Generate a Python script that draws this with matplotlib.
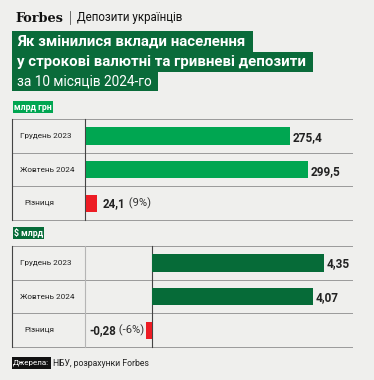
import numpy as np
import matplotlib.pyplot as plt
from matplotlib.patches import Rectangle

categories = ['Грудень 2023', 'Жовтень 2024', 'Різниця']
uah_values = [275.4, 299.5, 24.1]
uah_labels = ['275,4', '299,5', '24,1']
uah_pct = ' (9%)'
usd_values = [4.35, 4.07, -0.28]
usd_labels = ['4,35', '4,07', '-0,28']
usd_pct = ' (-6%)'

W, H = 374, 380
bg = '#efefed'
title_green = '#0a6b3a'
light_green = '#00a651'
dark_green = '#066b38'
red = '#ed1c24'
plt.rcParams['font.family'] = ['Roboto', 'DejaVu Sans']

fig = plt.figure(figsize=(W/100, H/100), dpi=100, facecolor=bg)
base = fig.add_axes([0, 0, 1, 1])
base.set_xlim(0, W)
base.set_ylim(H, 0)
base.axis('off')


def px_axes(x0, y0, x1, y1):
    return fig.add_axes([x0/W, 1-y1/H, (x1-x0)/W, (y1-y0)/H])


# header
base.text(15, 18, 'Forbes', family='DejaVu Serif', fontweight='bold', fontsize=9.3, va='center', color='#111')
base.plot([70, 70], [11, 24], color='#555', lw=0.6)
base.text(77, 18, 'Депозити українців', fontsize=8.3, va='center', color='#111')

boxes = [(12, 31, 253, 52), (12, 52, 313, 72), (12, 72, 158, 91)]
for x0, y0, x1, y1 in boxes:
    base.add_patch(Rectangle((x0, y0), x1-x0, y1-y0, color=title_green, lw=0))
base.text(17, 42, 'Як змінилися вклади населення', color='white', fontweight='bold', fontsize=10.8, va='center')
base.text(17, 62, 'у строкові валютні та гривневі депозити', color='white', fontweight='bold', fontsize=10.8, va='center')
base.text(17, 81, 'за 10 місяців 2024-го', color='white', fontsize=9.8, va='center')


def tag(x0, y0, x1, y1, text, color):
    base.add_patch(Rectangle((x0, y0), x1-x0, y1-y0, color=color, lw=0))
    base.text((x0+x1)/2, (y0+y1)/2+0.5, text, color='white', fontweight='bold', fontsize=6.3, ha='center', va='center')


def table(top, row_h, seps, dark_sep):
    ys = [top + i*row_h for i in range(4)]
    for y in ys:
        base.plot([12, 352], [y, y], color='#9a9a9a', lw=0.7)
    base.plot([12, 12], [ys[0], ys[-1]], color='#444', lw=0.8)
    for x in seps:
        base.plot([x, x], [ys[0], ys[-1]], color='#444' if x == dark_sep else '#b5b5b5', lw=0.8)
    for i, c in enumerate(categories):
        xoff = 20 if i < 2 else 24
        base.text(xoff, top + row_h*(i+0.5), c, fontsize=5.9, va='center', color='#222')


tag(13, 101, 53, 113, 'млрд грн', light_green)
table(119, 33.7, [85], 85)
tag(13, 227, 44, 239, '$ млрд', dark_green)
table(246, 33.7, [85, 152], 152)

# UAH bars
ax1 = px_axes(86, 119, 352, 220)
ax1.set_xlim(0, 266/0.741)
ax1.set_ylim(2.5, -0.5)
ax1.axis('off')
cols = [light_green, light_green, red]
for i, v in enumerate(uah_values):
    ax1.barh(i, v if i < 2 else 15, height=0.52 if i < 2 else 0.5, color=cols[i], lw=0)
for i in range(2):
    ax1.text(uah_values[i] + 4, i + 0.05, uah_labels[i], fontsize=8.5, fontweight='bold', va='center', color='#222')
t = ax1.text(23, 2.0, uah_labels[2], fontsize=8.3, fontweight='bold', va='center', color='#222')
ax1.annotate(uah_pct, xycoords=t, xy=(1, 0.5), va='center', fontsize=8.0, color='#333')

# USD bars
scale = 39.5
ax2 = px_axes(85, 246, 352, 347)
ax2.set_xlim(-67/scale, 200/scale)
ax2.set_ylim(2.5, -0.5)
ax2.axis('off')
cols = [dark_green, dark_green, red]
for i, v in enumerate(usd_values):
    ax2.barh(i, v if i < 2 else -0.15, height=0.52 if i < 2 else 0.5, color=cols[i], lw=0)
for i in range(2):
    ax2.text(usd_values[i] + 0.08, i + 0.02, usd_labels[i], fontsize=8.5, fontweight='bold', va='center', color='#222')
t = ax2.text(-67/scale + 0.1, 2.0, usd_labels[2], fontsize=8.3, fontweight='bold', va='center', color='#222')
ax2.annotate(usd_pct, xycoords=t, xy=(1, 0.5), va='center', fontsize=8.0, color='#333')

# source
base.add_patch(Rectangle((12, 357), 39, 12, color='#111', lw=0))
base.text(13, 363, 'Джерела:', color='white', fontsize=5.8, va='center')
base.text(53, 363, 'НБУ, розрахунки Forbes', color='#222', fontsize=6.2, va='center')

fig.savefig('out.png', dpi=100, facecolor=bg)
